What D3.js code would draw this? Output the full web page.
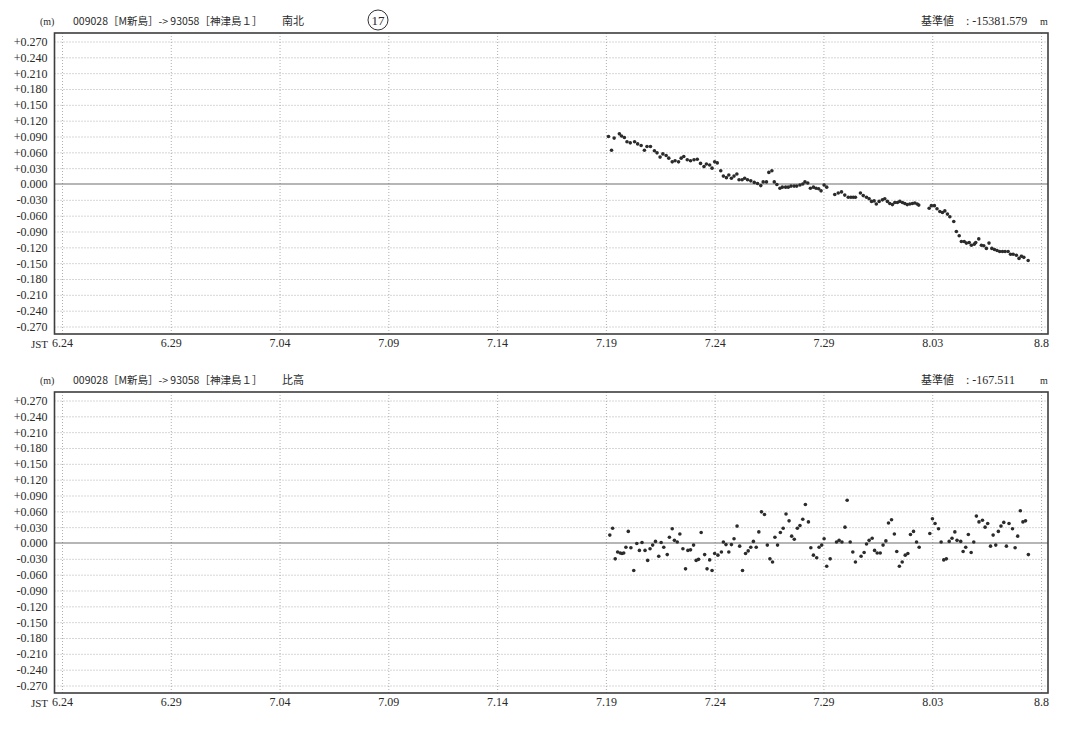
<!DOCTYPE html>
<html><head><meta charset="utf-8">
<script src="https://cdn.jsdelivr.net/npm/d3@7"></script>
<style>
html,body{margin:0;padding:0;background:#fff;}
svg{display:block;}
text{font-family:"Liberation Serif","DejaVu Serif",serif;fill:#2a2a2a;}
.jp{font-family:"Noto Sans CJK JP","Liberation Serif",serif;}
</style></head>
<body>
<svg id="c" width="1069" height="730"></svg>
<script>
// ---------- data ----------
const xTickDays = [0, 5, 10, 15, 20, 25, 30, 35, 40, 45];
const xTickLabels = ["6.24", "6.29", "7.04", "7.09", "7.14", "7.19", "7.24", "7.29", "8.03", "8.8"];
const yTickValues = [0.27, 0.24, 0.21, 0.18, 0.15, 0.12, 0.09, 0.06, 0.03, 0, -0.03, -0.06, -0.09, -0.12, -0.15, -0.18, -0.21, -0.24, -0.27];
const yTickLabels = ["+0.270","+0.240","+0.210","+0.180","+0.150","+0.120","+0.090","+0.060","+0.030","0.000","-0.030","-0.060","-0.090","-0.120","-0.150","-0.180","-0.210","-0.240","-0.270"];

const stationTitle = "009028［M新島］-> 93058［神津島１］";
const componentNames = ["南北", "比高"];
const baseValues = ["-15381.579", "-167.511"];

// 南北 (north-south), days since 6.24
const nsDays = [25.12,25.26,25.38,25.62,25.72,25.85,25.97,26.12,26.32,26.46,26.62,26.77,26.89,27.05,27.23,27.35,27.49,27.62,27.77,27.89,
28.05,28.18,28.34,28.46,28.58,28.74,28.89,29.05,29.20,29.35,29.51,29.62,29.77,29.88,30.00,30.12,30.28,30.40,30.54,30.65,
30.77,30.89,31.02,31.12,31.26,31.38,31.51,31.66,31.82,31.97,32.12,32.23,32.38,32.49,32.63,32.74,32.86,33.00,33.11,33.26,
33.38,33.51,33.65,33.77,33.92,34.05,34.15,34.28,34.40,34.54,34.66,34.78,34.89,35.03,35.15,
35.52,35.68,35.83,35.98,36.14,36.26,36.37,36.47,36.70,36.83,36.98,37.10,37.21,37.33,37.43,37.56,37.71,37.82,37.94,38.05,
38.17,38.28,38.40,38.51,38.63,38.74,38.85,38.97,39.09,39.20,39.31,39.38,
39.86,39.96,40.10,40.22,40.35,40.47,40.58,40.70,40.81,40.99,41.11,41.24,41.34,41.47,41.57,41.70,41.80,41.93,42.00,42.14,
42.26,42.37,42.49,42.61,42.74,42.86,42.98,43.10,43.23,43.35,43.49,43.60,43.72,43.87,43.99,44.10,44.21,44.41];
const nsValues = [0.090,0.064,0.087,0.095,0.091,0.088,0.080,0.078,0.080,0.076,0.073,0.064,0.071,0.071,0.063,0.059,0.051,0.057,0.054,0.049,
0.042,0.044,0.042,0.049,0.052,0.046,0.044,0.046,0.047,0.039,0.033,0.038,0.036,0.030,0.042,0.040,0.025,0.015,0.012,0.017,
0.011,0.015,0.019,0.008,0.008,0.011,0.008,0.006,0.003,0.001,-0.003,0.004,0.004,0.022,0.025,0.004,-0.001,-0.008,-0.006,-0.006,
-0.006,-0.004,-0.004,-0.004,-0.002,0.000,0.004,0.002,-0.008,-0.006,-0.008,-0.009,-0.013,-0.002,-0.006,
-0.020,-0.017,-0.015,-0.021,-0.025,-0.025,-0.025,-0.025,-0.017,-0.022,-0.025,-0.028,-0.033,-0.032,-0.038,-0.033,-0.030,-0.028,-0.033,-0.037,
-0.039,-0.035,-0.035,-0.033,-0.035,-0.037,-0.039,-0.038,-0.037,-0.036,-0.038,-0.040,
-0.046,-0.041,-0.041,-0.047,-0.052,-0.054,-0.051,-0.057,-0.062,-0.071,-0.090,-0.098,-0.109,-0.109,-0.112,-0.111,-0.116,-0.114,-0.111,-0.104,
-0.116,-0.117,-0.122,-0.112,-0.122,-0.124,-0.126,-0.128,-0.128,-0.128,-0.128,-0.133,-0.133,-0.135,-0.141,-0.137,-0.139,-0.145];

// 比高 (height), days since 6.24
const udDays = [25.18,25.31,25.43,25.54,25.66,25.74,25.82,25.92,26.03,26.15,26.28,26.42,26.54,26.66,26.80,26.92,27.03,27.15,27.28,27.43,
27.54,27.66,27.82,27.92,28.05,28.15,28.28,28.40,28.54,28.66,28.77,28.89,29.03,29.15,29.26,29.38,29.54,29.65,29.77,29.88,
30.00,30.15,30.31,30.40,30.52,30.65,30.77,30.89,31.03,31.15,31.28,31.42,31.54,31.66,31.78,31.91,32.03,32.15,32.29,32.42,
32.54,32.66,32.77,32.89,33.02,33.15,33.28,33.42,33.54,33.66,33.80,33.92,34.05,34.17,34.31,34.42,34.54,34.69,34.80,34.92,
35.03,35.15,35.31,35.60,35.72,35.85,35.99,36.09,36.23,36.35,36.47,36.73,36.87,36.98,37.10,37.24,37.35,37.47,37.61,37.74,
37.87,37.99,38.13,38.26,38.37,38.49,38.62,38.76,38.88,39.00,39.14,39.28,39.40,
39.89,40.01,40.13,40.29,40.41,40.53,40.65,40.78,40.91,41.04,41.14,41.31,41.42,41.54,41.66,41.79,41.91,42.03,42.15,42.31,
42.43,42.55,42.68,42.80,42.92,43.04,43.16,43.29,43.41,43.53,43.69,43.81,43.93,44.05,44.17,44.29,44.42];
const udValues = [0.015,0.028,-0.030,-0.017,-0.019,-0.020,-0.019,-0.008,0.022,-0.009,-0.052,-0.001,-0.014,0.001,-0.014,-0.033,-0.011,-0.004,0.003,-0.025,
0.001,-0.008,-0.022,0.011,0.027,0.005,0.002,0.017,-0.011,-0.049,-0.014,-0.013,-0.004,-0.033,-0.031,0.020,-0.022,-0.049,-0.032,-0.052,
-0.020,-0.023,-0.017,0.002,-0.003,-0.017,-0.003,0.008,0.032,-0.006,-0.052,-0.020,-0.015,-0.008,0.003,-0.008,0.021,0.059,0.054,-0.004,
-0.030,-0.036,0.011,-0.004,0.020,0.028,0.055,0.042,0.013,0.007,0.028,0.033,0.045,0.073,0.040,-0.009,-0.023,-0.028,-0.008,-0.004,
0.008,-0.044,-0.030,0.002,0.005,0.002,0.030,0.081,0.002,-0.017,-0.036,-0.025,-0.018,-0.002,0.005,0.009,-0.014,-0.019,-0.019,-0.004,
0.004,0.038,0.044,0.017,-0.016,-0.044,-0.036,-0.023,-0.020,0.016,0.022,0.002,-0.008,
0.018,0.046,0.037,0.027,0.002,-0.032,-0.030,0.003,0.009,0.021,0.005,0.003,-0.016,-0.008,0.016,-0.018,0.002,0.051,0.040,0.043,
0.030,0.037,-0.006,0.015,-0.004,0.022,0.032,0.039,-0.006,0.037,0.027,-0.009,0.013,0.061,0.040,0.042,-0.022];

// ---------- drawing ----------
const svg = d3.select("#c");
const box = {left: 54.5, right: 1048};
const x = d3.scaleLinear().domain([0, 45]).range([62, 1041]);

function panel(offsetY, days, values, compIdx, circled) {
  const top = 33 + offsetY, bottom = 334 + offsetY;
  const y = d3.scaleLinear().domain([-0.27, 0.27]).range([326.5 + offsetY, 41.5 + offsetY]);
  const g = svg.append("g");

  g.append("g").attr("transform", `translate(${box.left},0)`)
    .call(d3.axisLeft(y).tickValues(yTickValues.filter(v => v !== 0)).tickSize(-(box.right - box.left)).tickFormat(""))
    .call(a => a.select(".domain").remove())
    .call(a => a.selectAll("line").attr("stroke", "#9a9a9a").attr("stroke-width", 0.8).attr("stroke-dasharray", "1,2"));

  g.append("g").attr("transform", `translate(0,${bottom})`)
    .call(d3.axisBottom(x).tickValues(xTickDays).tickSize(-(bottom - top)).tickFormat(""))
    .call(a => a.select(".domain").remove())
    .call(a => a.selectAll("line").attr("stroke", "#9a9a9a").attr("stroke-width", 0.8).attr("stroke-dasharray", "1,2"));

  g.append("line").attr("x1", box.left).attr("x2", box.right)
    .attr("y1", y(0)).attr("y2", y(0)).attr("stroke", "#6e6e6e").attr("stroke-width", 1.2);

  g.append("rect").attr("x", box.left).attr("y", top).attr("width", box.right - box.left).attr("height", bottom - top)
    .attr("fill", "none").attr("stroke", "#3e3e3e").attr("stroke-width", 1.6);

  g.append("g").attr("transform", `translate(${box.left - 4},0)`)
    .call(d3.axisLeft(y).tickValues(yTickValues).tickSize(0)
      .tickFormat((d, i) => yTickLabels[i]))
    .call(a => a.select(".domain").remove())
    .call(a => a.selectAll("text").attr("font-size", 12).attr("fill", "#2a2a2a"));

  g.append("g").attr("transform", `translate(0,${bottom + 1})`)
    .call(d3.axisBottom(x).tickValues(xTickDays).tickSize(0)
      .tickFormat((d, i) => xTickLabels[i]))
    .call(a => a.select(".domain").remove())
    .call(a => a.selectAll("text").attr("font-size", 12).attr("fill", "#2a2a2a"));
  g.append("text").attr("x", 48).attr("y", bottom + 14).attr("text-anchor", "end")
    .attr("font-size", 11).text("JST");

  g.append("g").selectAll("circle").data(days).join("circle")
    .attr("cx", d => x(d)).attr("cy", (d, i) => y(values[i]))
    .attr("r", 1.8).attr("fill", "#2b2b2b");

  const hy = offsetY + 25;
  svg.append("text").attr("x", 40).attr("y", hy).attr("font-size", 10).text("(m)");
  svg.append("text").attr("class", "jp").attr("x", 73).attr("y", hy).attr("font-size", 10.5).text(stationTitle);
  svg.append("text").attr("class", "jp").attr("x", 282).attr("y", hy).attr("font-size", 11).text(componentNames[compIdx]);
  svg.append("text").attr("class", "jp").attr("x", 921).attr("y", hy).attr("font-size", 11).text("基準値");
  svg.append("text").attr("x", 966).attr("y", hy).attr("font-size", 12).text(": " + baseValues[compIdx]);
  svg.append("text").attr("x", 1040).attr("y", hy).attr("font-size", 10).text("m");
  if (circled) {
    svg.append("circle").attr("cx", 378).attr("cy", offsetY + 20).attr("r", 10)
      .attr("fill", "none").attr("stroke", "#333").attr("stroke-width", 1);
    svg.append("text").attr("x", 378).attr("y", offsetY + 25).attr("text-anchor", "middle")
      .attr("font-size", 13).text(circled);
  }
}

panel(0, nsDays, nsValues, 0, "17");
panel(359, udDays, udValues, 1, null);
</script>
</body></html>
